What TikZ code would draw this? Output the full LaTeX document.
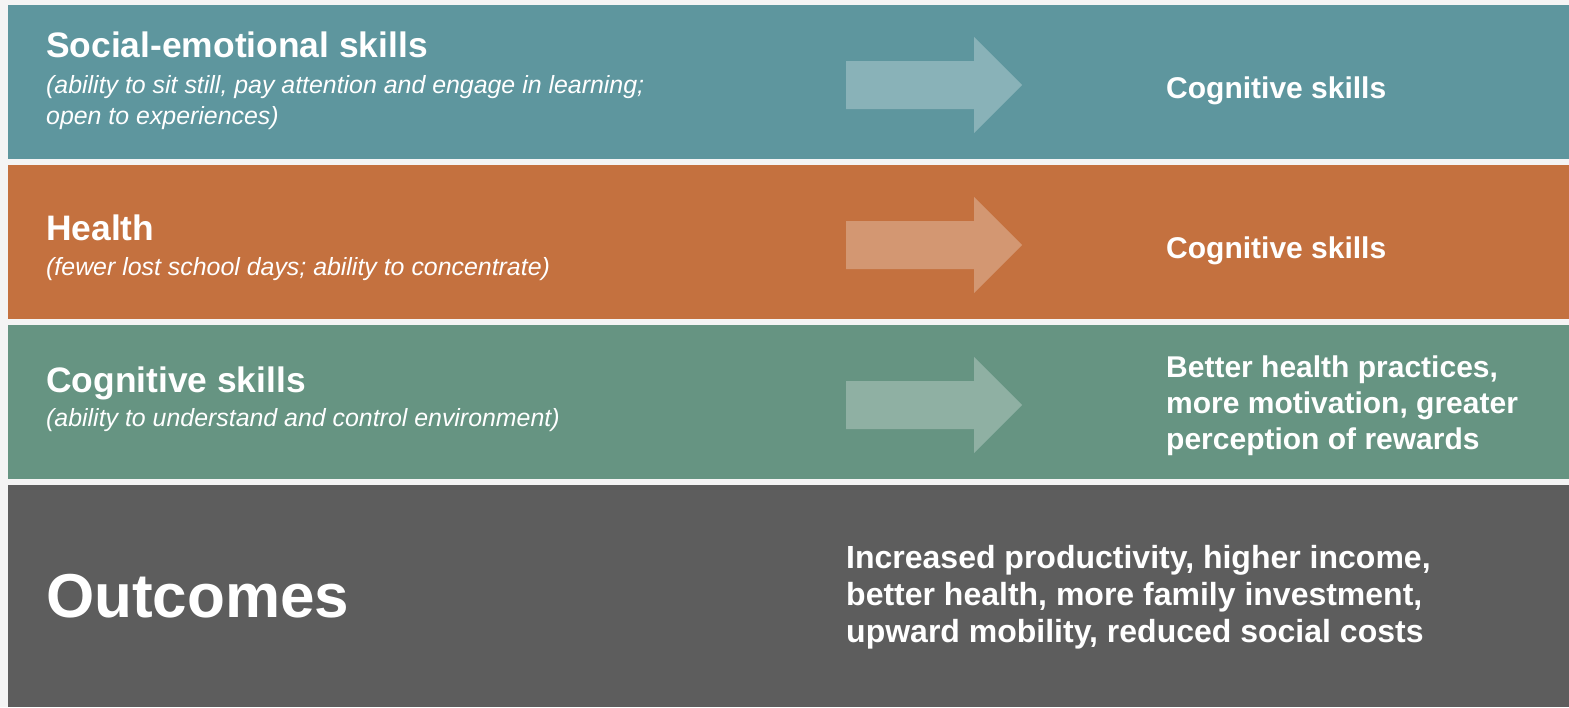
\documentclass[tikz,border=0pt]{standalone}
\usepackage{fontspec}
\setmainfont{Liberation Sans}
\definecolor{bgc}{HTML}{F4F4F4}
\definecolor{tealc}{HTML}{5E969E}
\definecolor{orangec}{HTML}{C4713F}
\definecolor{greenc}{HTML}{669482}
\definecolor{grayc}{HTML}{5D5D5D}
\tikzset{
  band/.style={draw=none},
  arrowshape/.style={fill=white, fill opacity=0.27, draw=none},
  ttl/.style={anchor=base west, inner sep=0, text=white, font=\fontsize{35.4}{40}\selectfont\bfseries},
  sub/.style={anchor=base west, inner sep=0, text=white, font=\fontsize{24.9}{28}\selectfont\itshape},
  rgt/.style={anchor=base west, inner sep=0, text=white, font=\fontsize{30}{36}\selectfont\bfseries},
  outr/.style={anchor=base west, inner sep=0, text=white, font=\fontsize{32}{37}\selectfont\bfseries},
  big/.style={anchor=base west, inner sep=0, text=white, font=\fontsize{62}{70}\selectfont\bfseries}
}
\newcommand{\bigarrow}[1]{%
  \fill[arrowshape] (846,#1-24) -- (974,#1-24) -- (974,#1-48) -- (1022,#1) -- (974,#1+48) -- (974,#1+24) -- (846,#1+24) -- cycle;}
\begin{document}
\begin{tikzpicture}[x=1pt,y=-1pt]
\useasboundingbox (0,0) rectangle (1569,707);
\fill[bgc] (0,0) rectangle (1569,707);
% bands
\fill[band, tealc] (8,5) rectangle (1569,159);
\fill[band, orangec] (8,165) rectangle (1569,319);
\fill[band, greenc] (8,325) rectangle (1569,479);
\fill[band, grayc] (8,485) rectangle (1569,707);
% arrows
\bigarrow{85}
\bigarrow{245}
\bigarrow{405}
% band 1
\node[ttl] (t1) at (46,57) {Social-emotional skills};
\node[sub] (s1a) at (46,93) {(ability to sit still, pay attention and engage in learning;};
\node[sub] (s1b) at (46,124) {open to experiences)};
\node[rgt] (r1) at (1166,98) {Cognitive skills};
% band 2
\node[ttl] (t2) at (46,240) {Health};
\node[sub] (s2) at (46,275) {(fewer lost school days; ability to concentrate)};
\node[rgt] (r2) at (1166,258) {Cognitive skills};
% band 3
\node[ttl] (t3) at (46,392) {Cognitive skills};
\node[sub] (s3) at (46,426) {(ability to understand and control environment)};
\node[rgt] (r3a) at (1166,377) {Better health practices,};
\node[rgt] (r3b) at (1166,413) {more motivation, greater};
\node[rgt] (r3c) at (1166,449) {perception of rewards};
% band 4
\node[big] (t4) at (46,617) {Outcomes};
\node[outr] (r4a) at (846,568) {Increased productivity, higher income,};
\node[outr] (r4b) at (846,605) {better health, more family investment,};
\node[outr] (r4c) at (846,642) {upward mobility, reduced social costs};
\end{tikzpicture}
\end{document}
